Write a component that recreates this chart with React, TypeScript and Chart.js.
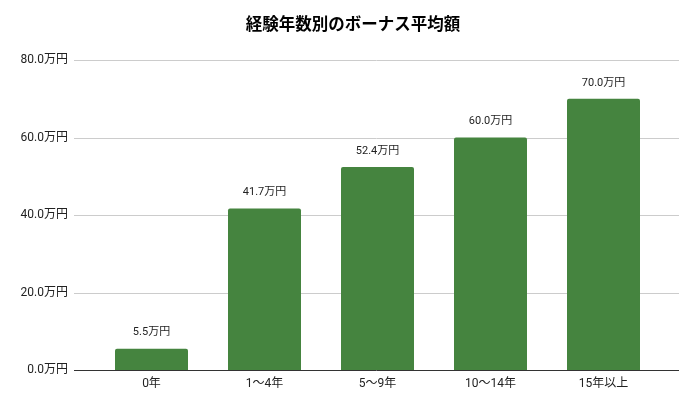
import { useEffect, useRef } from 'react';
import { Chart, registerables } from 'chart.js';

Chart.register(...registerables);

const categories = ['0年', '1〜4年', '5〜9年', '10〜14年', '15年以上'];
const bonusValues = [5.5, 41.7, 52.4, 60.0, 70.0];
const yTicks = [0, 20, 40, 60, 80];
const titleText = '経験年数別のボーナス平均額';

const FONT = "Roboto, 'Noto Sans CJK JP', sans-serif";
const fmt = (v: number) => v.toFixed(1) + '万円';

// horizontal grid lines run a little past the plot area on both sides
const gridPlugin = {
  id: 'extendedGrid',
  beforeDatasetsDraw(chart: any) {
    const { ctx, chartArea, scales } = chart;
    const y = scales.y;
    ctx.save();
    y.ticks.forEach((t: any) => {
      const py = Math.round(y.getPixelForValue(t.value)) + 0.5;
      ctx.strokeStyle = t.value === 0 ? '#333333' : '#cccccc';
      ctx.lineWidth = 1;
      ctx.beginPath();
      ctx.moveTo(chartArea.left - 21, py);
      ctx.lineTo(chartArea.right + 19, py);
      ctx.stroke();
    });
    ctx.restore();
  },
};

// value labels above bars + title centred on the whole canvas
const labelPlugin = {
  id: 'barLabels',
  afterDraw(chart: any) {
    const { ctx } = chart;
    const meta = chart.getDatasetMeta(0);
    ctx.save();
    ctx.font = `11px ${FONT}`;
    ctx.fillStyle = '#222222';
    ctx.textAlign = 'center';
    ctx.textBaseline = 'middle';
    meta.data.forEach((bar: any, i: number) => {
      ctx.fillText(fmt(bonusValues[i]), bar.x, bar.y - 16);
    });
    ctx.font = `bold 16.5px ${FONT}`;
    ctx.fillStyle = '#000000';
    ctx.fillText(titleText, 353, 26);
    ctx.restore();
  },
};

export default function App() {
  const canvasRef = useRef<HTMLCanvasElement>(null);
  const chartRef = useRef<Chart | null>(null);

  useEffect(() => {
    document.body.style.margin = '0';
    if (!canvasRef.current) return;
    if (chartRef.current) chartRef.current.destroy();

    chartRef.current = new Chart(canvasRef.current, {
      type: 'bar',
      data: {
        labels: categories,
        datasets: [
          {
            data: bonusValues,
            backgroundColor: '#45843f',
            borderRadius: 2,
            categoryPercentage: 0.646,
            barPercentage: 1,
          },
        ],
      },
      options: {
        animation: false,
        responsive: false,
        layout: { padding: { left: 0, right: 40, top: 60, bottom: 0 } },
        plugins: {
          legend: { display: false },
          tooltip: { enabled: false },
          title: { display: false },
        },
        scales: {
          x: {
            grid: { display: false, drawTicks: false },
            border: { display: false },
            ticks: {
              color: '#222222',
              font: { family: FONT, size: 12 },
              padding: 7,
              maxRotation: 0,
            },
            afterFit: (s: any) => {
              s.height = 41;
            },
          },
          y: {
            min: 0,
            max: 80,
            grid: { display: false, drawTicks: false },
            border: { display: false },
            afterBuildTicks: (s: any) => {
              s.ticks = yTicks.map((v) => ({ value: v }));
            },
            ticks: {
              stepSize: 20,
              color: '#222222',
              font: { family: FONT, size: 12 },
              padding: 27,
              callback: (v: any) => fmt(Number(v)),
            },
            afterFit: (s: any) => {
              s.width = 95;
            },
          },
        },
      },
      plugins: [gridPlugin, labelPlugin],
    });

    return () => {
      if (chartRef.current) {
        chartRef.current.destroy();
        chartRef.current = null;
      }
    };
  }, []);

  return (
    <div style={{ width: 700, height: 411, background: '#ffffff' }}>
      <canvas ref={canvasRef} width={700} height={411} />
    </div>
  );
}
